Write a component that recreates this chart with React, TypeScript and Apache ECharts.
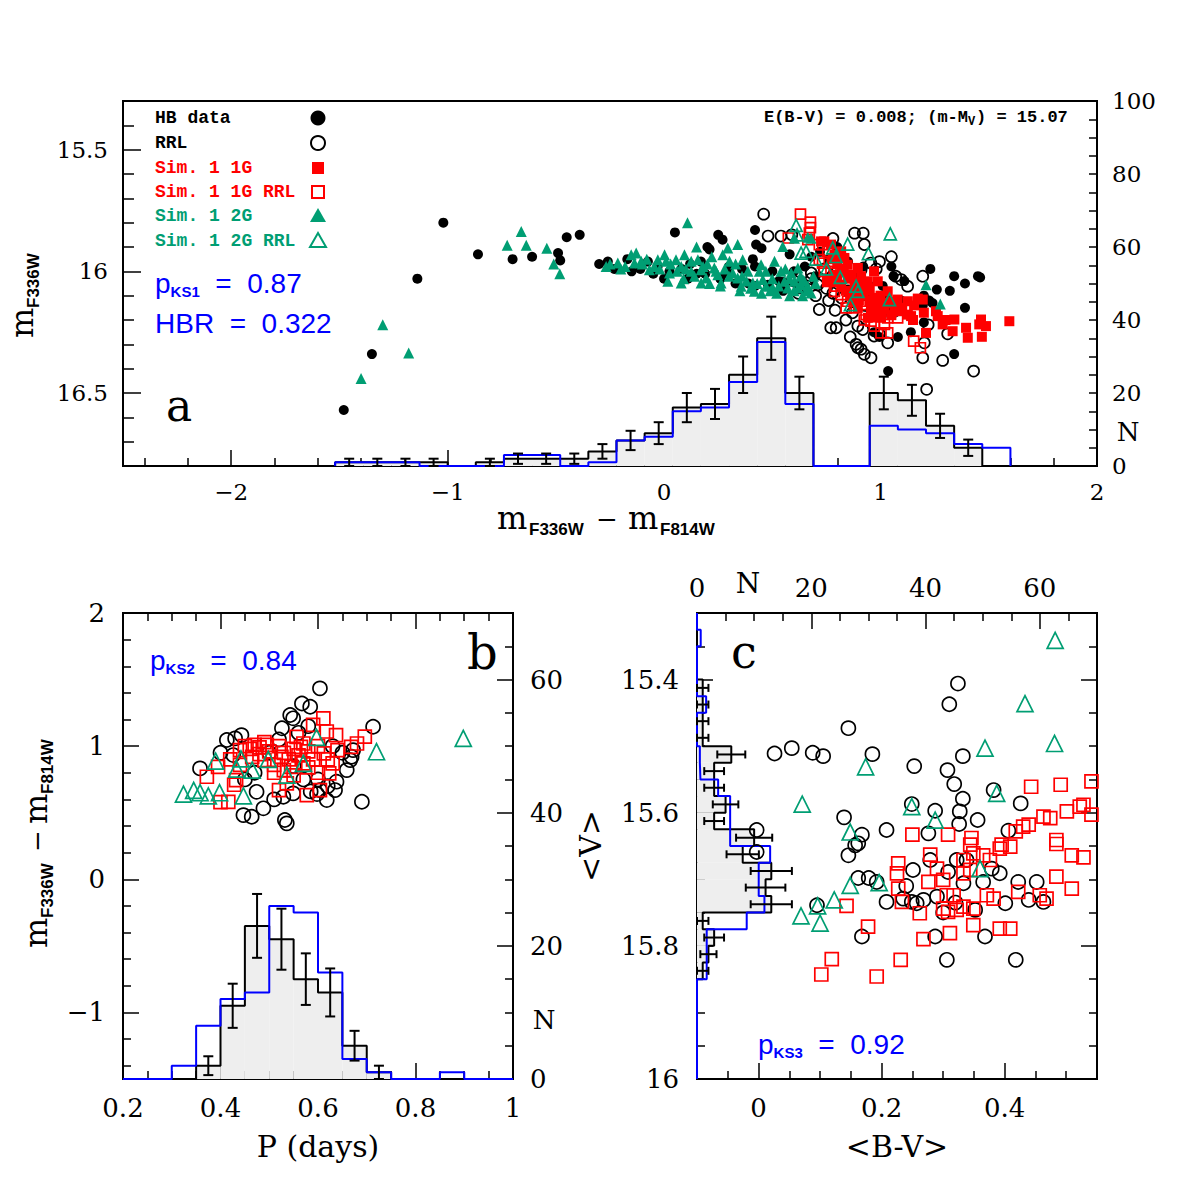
import React, { useEffect, useRef } from "react";
import * as echarts from "echarts";

// ---------------- Panel a data ----------------
const aHistEdges = [-1.52, -1.39, -1.26, -1.13, -1.0, -0.87, -0.74, -0.61, -0.48, -0.35, -0.22, -0.09, 0.04, 0.17, 0.3, 0.43, 0.56, 0.69, 0.82, 0.95, 1.08, 1.21, 1.34, 1.47, 1.6];
const aHistObs = [1, 1, 1, 1, 0, 1, 2, 2, 2, 4, 7, 9, 16, 17, 25, 35, 20, 0, 0, 20, 18, 11, 5, 0];
const aHistSim = [1, 1, 1, 0, 0, 0, 3, 3, 0, 1, 7, 8, 15, 16, 23, 34, 17, 0, 0, 11, 10, 9, 6, 5];

const aHB = [
  [-1.48, 16.57], [-1.35, 16.34], [-1.14, 16.03], [-1.02, 15.8], [-0.86, 15.93], [-0.7, 15.95], [-0.61, 15.94],
  [-0.45, 15.86], [-0.39, 15.85], [-0.49, 15.925], [-0.48, 15.955], [-0.3, 15.97], [-0.26, 15.96], [-0.23, 15.99],
  [-0.17, 15.95], [-0.11, 15.99], [-0.075, 15.96], [-0.05, 16.01], [-0.03, 15.98], [0.05, 15.84], [0.025, 16.0],
  [0.08, 15.99], [0.11, 16.03], [0.15, 16.01], [0.17, 15.96], [0.2, 15.9], [0.25, 15.85], [0.27, 15.87],
  [0.26, 16.03], [0.29, 16.01], [0.42, 15.83], [0.425, 15.89], [0.45, 15.905], [0.41, 15.95], [0.42, 15.98],
  [0.36, 15.99], [0.39, 16.05], [0.42, 16.06], [0.48, 16.055], [0.53, 16.04], [0.19, 16.01], [0.21, 15.91],
  [0.6, 16.0], [0.65, 15.98], [0.7, 16.02], [0.76, 15.95], [0.8, 15.9], [0.85, 15.96], [0.92, 15.98],
  [1.05, 15.98], [1.06, 16.02], [1.11, 16.04], [1.01, 16.06], [1.025, 16.1], [1.23, 15.99], [1.34, 16.02],
  [1.39, 16.05], [1.46, 16.025], [1.26, 16.075], [1.32, 16.08], [1.2, 16.1], [1.225, 16.12], [1.195, 16.14],
  [1.24, 16.13], [1.39, 16.15], [1.14, 16.25], [0.97, 16.25], [0.995, 16.27], [1.34, 16.34], [1.2, 16.21],
  [1.08, 16.27], [1.095, 16.12], [1.035, 16.41], [0.88, 16.02], [0.9, 16.06], [0.95, 16.1], [0.0, 16.03],
  [-0.15, 16.0], [0.33, 16.05], [0.55, 16.08], [0.62, 16.06], [0.5, 16.0], [0.3, 15.98], [0.12, 15.97],
  [0.68, 15.94], [0.72, 15.92], [0.58, 15.93], [1.45, 16.02]
];
const aRRL = [
  [0.46, 15.765], [0.48, 15.855], [0.54, 15.855], [0.78, 15.865], [0.88, 15.843], [0.92, 15.843], [0.925, 15.89],
  [0.955, 15.966], [0.995, 15.96], [1.05, 15.94], [0.91, 15.993], [1.07, 16.02], [1.095, 16.034], [1.125, 16.061],
  [1.195, 16.02], [0.625, 16.068], [0.717, 16.157], [0.68, 16.007], [0.71, 16.055], [0.77, 16.232], [0.795, 16.232],
  [0.895, 16.225], [0.918, 16.239], [0.887, 16.3], [0.895, 16.314], [0.925, 16.341], [0.956, 16.355],
  [0.97, 16.266], [0.995, 16.259], [1.033, 16.294], [1.064, 16.164], [1.202, 16.294], [1.195, 16.355],
  [1.287, 16.366], [1.43, 16.41], [1.213, 16.485], [1.31, 16.257], [1.22, 16.22], [0.6, 16.04], [0.66, 16.06],
  [0.75, 16.07], [0.78, 16.09], [0.82, 16.11], [0.85, 16.08], [0.93, 16.14], [0.96, 16.16], [0.84, 16.2],
  [0.87, 16.17], [1.0, 16.18], [0.55, 16.05], [0.5, 16.06], [0.98, 15.99], [0.94, 16.06], [0.74, 15.99],
  [0.8, 16.0], [0.86, 16.27], [0.91, 16.32], [0.68, 16.03], [0.59, 15.85], [0.62, 16.09], [0.7, 16.1],
  [0.76, 16.12], [0.79, 16.16]
];
const aSim1G = [
  [1.595, 16.205], [1.464, 16.198], [1.487, 16.225], [1.456, 16.218], [1.468, 16.269], [1.403, 16.273], [1.395, 16.232],
  [1.341, 16.198], [1.333, 16.246], [1.287, 16.218], [1.264, 16.184], [1.21, 16.253], [1.256, 16.164], [1.172, 16.112],
  [1.195, 16.116], [1.141, 16.184], [1.079, 16.116], [1.087, 16.164], [1.033, 16.082], [1.048, 16.123], [0.987, 16.041],
  [0.971, 16.109], [0.941, 16.041], [0.948, 16.123], [0.895, 15.986], [0.91, 16.02], [0.848, 15.973], [0.864, 16.014],
  [0.818, 15.918], [0.833, 15.945], [0.771, 15.89], [0.787, 15.932], [0.74, 15.877], [0.987, 16.164], [1.002, 16.191],
  [0.956, 16.164], [1.064, 16.15], [1.126, 16.178], [0.941, 16.191], [0.895, 16.15], [0.879, 16.082], [1.018, 16.15],
  [1.126, 16.123], [0.787, 16.014], [0.818, 16.055], [0.756, 16.041], [0.725, 15.877], [0.9, 16.06], [0.93, 16.08],
  [0.86, 16.1], [1.0, 16.1], [0.97, 16.0], [0.8, 15.97], [1.3, 16.2], [1.155, 16.14],
  [0.82, 15.99], [0.85, 16.03], [0.88, 16.05], [0.84, 16.08], [0.92, 16.1], [0.95, 16.07], [0.98, 16.13],
  [1.02, 16.13], [1.05, 16.18], [0.9, 16.12], [0.87, 16.12], [0.8, 16.04], [0.78, 15.95], [0.83, 16.0],
  [0.96, 16.19], [1.1, 16.15], [1.15, 16.2], [1.2, 16.17]
];
const aSim1GRRL = [
  [0.63, 15.765], [0.676, 15.798], [0.676, 15.82], [0.671, 15.843], [0.574, 15.863], [0.664, 15.87], [0.733, 15.89],
  [0.717, 15.952], [0.74, 16.0], [0.771, 16.0], [0.732, 15.966], [0.778, 15.966], [0.756, 16.041], [0.794, 16.061],
  [0.818, 16.096], [0.848, 16.123], [0.879, 16.15], [0.91, 16.123], [0.933, 16.178], [0.956, 16.205], [0.971, 16.225],
  [1.002, 16.253], [1.033, 16.253], [1.033, 16.191], [1.048, 16.164], [0.987, 16.15], [0.956, 16.123], [0.918, 16.075],
  [0.941, 16.089], [0.895, 16.048], [1.153, 16.287], [1.184, 16.314], [0.787, 16.082], [0.756, 15.918], [0.717, 15.89],
  [0.995, 16.184], [1.018, 16.218], [1.079, 16.191], [0.841, 16.15], [0.925, 16.2]
];
const aSim2G = [
  [-1.4, 16.44], [-1.3, 16.22], [-1.18, 16.336], [-0.66, 15.836], [-0.725, 15.893], [-0.637, 15.893], [-0.542, 15.905],
  [-0.51, 15.97], [-0.482, 16.01], [-0.268, 15.98], [-0.214, 15.966], [0.108, 15.8],
  [-0.152, 15.932], [-0.129, 15.925], [-0.106, 15.959], [-0.137, 15.966], [-0.068, 15.993], [-0.029, 15.952], [0.002, 15.932],
  [0.009, 15.959], [0.025, 16.007], [0.055, 15.952], [0.079, 15.98], [0.094, 15.932], [0.125, 15.959], [0.125, 16.0],
  [0.156, 15.952], [0.171, 15.993], [0.194, 16.027], [0.232, 15.986], [0.248, 16.014], [0.271, 15.932], [0.302, 15.959],
  [0.294, 15.904], [0.34, 15.89], [0.317, 16.007], [0.34, 16.027], [0.363, 15.952], [0.387, 16.0], [0.41, 16.048],
  [0.417, 16.082], [0.448, 15.973], [0.456, 16.034], [0.471, 16.061], [0.502, 16.068], [0.51, 15.959], [0.54, 16.0],
  [0.556, 16.041], [0.571, 16.068], [0.587, 16.007], [0.602, 16.041], [0.618, 16.068], [0.641, 16.034], [0.664, 16.061],
  [0.679, 16.089], [0.548, 15.898], [0.602, 15.864], [0.664, 15.86], [0.017, 16.041], [0.079, 16.048], [0.171, 16.048],
  [0.263, 16.048], [0.356, 16.061], [-0.045, 15.98], [0.679, 15.864], [0.618, 15.986], [0.648, 16.041], [0.633, 16.055],
  [1.21, 16.055], [1.276, 16.134], [0.2, 15.97], [0.28, 15.99], [0.36, 16.02], [0.44, 16.0], [0.5, 16.03], [0.58, 16.03],
  [0.26, 16.06], [0.4, 16.07], [0.52, 16.09], [0.7, 16.05], [-0.2, 15.99], [-0.08, 15.95], [0.06, 16.0], [0.15, 15.9], [0.22, 15.94],
  [-0.25, 15.97], [-0.18, 15.98], [-0.1, 15.97], [-0.02, 15.99], [0.03, 15.97], [0.1, 15.99], [0.14, 16.02], [0.18, 15.98],
  [0.24, 16.0], [0.3, 16.02], [0.33, 15.97], [0.38, 16.04], [0.43, 16.05], [0.47, 16.0], [0.49, 16.08], [0.53, 16.06],
  [0.56, 15.99], [0.6, 16.08], [0.63, 16.02], [0.66, 16.08], [0.69, 16.02], [0.45, 16.09], [0.35, 16.08], [0.21, 16.05],
  [0.09, 16.03], [0.58, 16.1], [0.64, 16.1]
];
const aSim2GRRL = [
  [0.61, 15.811], [0.614, 15.85], [0.656, 15.918], [0.633, 15.925], [0.779, 15.904], [0.794, 15.939], [0.848, 15.888],
  [0.944, 15.927], [1.045, 15.846], [0.814, 16.025], [0.887, 16.061], [0.895, 16.082], [0.861, 16.137], [1.041, 16.116],
  [0.75, 15.99], [0.7, 15.95]
];

// ---------------- Panel b data ----------------
const bHistEdges = [0.2, 0.25, 0.3, 0.35, 0.4, 0.45, 0.5, 0.55, 0.6, 0.65, 0.7, 0.75, 0.8, 0.85, 0.9, 0.95, 1.0];
const bHistObs = [0, 0, 0, 2, 11, 23, 21, 15, 13, 5, 1, 0, 0, 0, 0, 0];
const bHistSim = [0, 0, 2, 8, 12, 13, 26, 25, 16, 3, 1, 0, 0, 1, 0, 0];
const bRRL = [
  [0.604, 1.434], [0.567, 1.32], [0.584, 1.296], [0.543, 1.234], [0.549, 1.209], [0.526, 1.134], [0.713, 1.146],
  [0.443, 1.083], [0.43, 1.058], [0.358, 0.833], [0.426, 0.933], [0.69, 0.582], [0.447, 0.482], [0.464, 0.47],
  [0.488, 0.533], [0.532, 0.445], [0.536, 0.42], [0.474, 0.657], [0.604, 0.67], [0.618, 0.595], [0.638, 0.733],
  [0.635, 0.67], [0.659, 0.82], [0.666, 0.895], [0.672, 0.97], [0.669, 0.92], [0.598, 0.64], [0.585, 0.66],
  [0.529, 0.62], [0.549, 0.645], [0.51, 0.6], [0.413, 1.046], [0.5, 0.95], [0.55, 0.85], [0.6, 0.75], [0.62, 0.7],
  [0.57, 0.75], [0.45, 0.75], [0.47, 0.8], [0.63, 1.0], [0.65, 0.95], [0.4, 0.95], [0.52, 1.05], [0.56, 1.1], [0.58, 1.15]
];
const bSim1GRRL = [
  [0.59, 1.159], [0.611, 1.209], [0.618, 1.11], [0.637, 1.083], [0.696, 1.071], [0.68, 1.02], [0.668, 0.995],
  [0.372, 0.77], [0.395, 0.845], [0.416, 0.582], [0.4, 0.58], [0.428, 0.71], [0.45, 1.0], [0.47, 1.01], [0.48, 0.99],
  [0.495, 1.01], [0.556, 1.07], [0.565, 0.995], [0.525, 0.92], [0.545, 0.845], [0.57, 0.87], [0.51, 0.8], [0.536, 0.72],
  [0.52, 0.67], [0.577, 0.632], [0.604, 0.67], [0.623, 0.795], [0.63, 0.87], [0.49, 0.895], [0.465, 0.92], [0.44, 0.97],
  [0.432, 0.745], [0.612, 0.945], [0.46, 0.98], [0.48, 0.94], [0.5, 0.96], [0.52, 1.0], [0.53, 0.95], [0.54, 0.9],
  [0.55, 0.98], [0.56, 0.93], [0.57, 1.02], [0.58, 0.96], [0.59, 0.9], [0.6, 1.0], [0.51, 0.86], [0.53, 0.82], [0.55, 0.78],
  [0.58, 0.84], [0.6, 0.8], [0.62, 0.9], [0.64, 0.97], [0.49, 1.03], [0.44, 0.86], [0.42, 0.9]
];
const bSim2GRRL = [
  [0.898, 1.058], [0.72, 0.958], [0.597, 1.066], [0.57, 0.871], [0.536, 0.783], [0.498, 0.9], [0.465, 0.82],
  [0.442, 0.905], [0.433, 0.828], [0.39, 0.888], [0.324, 0.64], [0.345, 0.668], [0.358, 0.65], [0.375, 0.627],
  [0.398, 0.65], [0.447, 0.627]
];

// ---------------- Panel c data ----------------
const cHistEdges = [15.3, 15.325, 15.35, 15.375, 15.4, 15.425, 15.45, 15.475, 15.5, 15.525, 15.55, 15.575, 15.6, 15.625, 15.65, 15.675, 15.7, 15.725, 15.75, 15.775, 15.8, 15.825, 15.85, 15.875, 15.9, 15.925, 15.95, 15.975, 16.0];
const cHistObs = [0, 0, 0, 0, 1, 1, 1, 1, 6, 3, 3, 5, 3, 10, 8, 13, 12, 13, 1, 3, 2, 1, 0, 0, 0, 0, 0, 0];
const cHistSim = [0, 0.65, 0, 0, 0, 1.6, 0, 0, 0.5, 0.6, 3.7, 5.8, 5.8, 5.8, 12.8, 10.8, 10.8, 11.8, 8.7, 1.7, 1.7, 1.7, 0, 0, 0, 0, 0, 0];
const cRRL = [
  [0.324, 15.406], [0.31, 15.437], [0.146, 15.473], [0.026, 15.511], [0.054, 15.503], [0.088, 15.51], [0.105, 15.515],
  [0.185, 15.512], [0.332, 15.515], [0.253, 15.53], [0.307, 15.536], [0.318, 15.557], [0.332, 15.579], [0.327, 15.598],
  [0.326, 15.617], [0.356, 15.611], [0.382, 15.566], [0.426, 15.586], [0.139, 15.607], [0.168, 15.633], [0.208, 15.626],
  [0.287, 15.597], [0.276, 15.631], [0.249, 15.587], [0.406, 15.627], [-0.003, 15.626], [0.157, 15.649],
  [-0.003, 15.659], [0.146, 15.664], [0.162, 15.646], [0.192, 15.704], [0.208, 15.734], [0.235, 15.729], [0.249, 15.734],
  [0.257, 15.736], [0.268, 15.731], [0.251, 15.686], [0.279, 15.671], [0.29, 15.726], [0.308, 15.689], [0.322, 15.671],
  [0.338, 15.671], [0.333, 15.706], [0.352, 15.746], [0.365, 15.704], [0.379, 15.684], [0.392, 15.691], [0.401, 15.736],
  [0.422, 15.704], [0.452, 15.704], [0.463, 15.734], [0.439, 15.731], [0.368, 15.786], [0.287, 15.786], [0.168, 15.786],
  [0.306, 15.821], [0.418, 15.821], [0.179, 15.698], [0.162, 15.698], [0.095, 15.739], [0.24, 15.71], [0.3, 15.75], [0.32, 15.735]
];
const cSim1GRRL = [
  [0.443, 15.561], [0.491, 15.558], [0.541, 15.553], [0.522, 15.591], [0.528, 15.588], [0.501, 15.598], [0.463, 15.606],
  [0.474, 15.608], [0.43, 15.621], [0.439, 15.618], [0.418, 15.628], [0.541, 15.603], [0.484, 15.641], [0.25, 15.633],
  [0.308, 15.633], [0.346, 15.638], [0.344, 15.648], [0.395, 15.648], [0.227, 15.676], [0.279, 15.663], [0.29, 15.684],
  [0.276, 15.704], [0.227, 15.714], [0.233, 15.734], [0.262, 15.751], [0.3, 15.744], [0.308, 15.749], [0.322, 15.746],
  [0.333, 15.741], [0.349, 15.744], [0.306, 15.724], [0.317, 15.724], [0.333, 15.691], [0.344, 15.686], [0.333, 15.671],
  [0.349, 15.661], [0.365, 15.664], [0.376, 15.671], [0.392, 15.654], [0.409, 15.651], [0.371, 15.724], [0.382, 15.729],
  [0.422, 15.719], [0.457, 15.724], [0.468, 15.729], [0.484, 15.696], [0.509, 15.714], [0.509, 15.664], [0.528, 15.667],
  [0.484, 15.647], [0.392, 15.774], [0.409, 15.774], [0.349, 15.769], [0.311, 15.781], [0.268, 15.79], [0.178, 15.771],
  [0.143, 15.74], [0.119, 15.82], [0.102, 15.843], [0.192, 15.846], [0.231, 15.821], [0.225, 15.691], [0.3, 15.701]
];
const cSim2GRRL = [
  [0.482, 15.341], [0.433, 15.436], [0.481, 15.496], [0.368, 15.503], [0.174, 15.531], [0.071, 15.587], [0.387, 15.571],
  [0.249, 15.591], [0.287, 15.611], [0.149, 15.629], [0.36, 15.684], [0.149, 15.709], [0.196, 15.705], [0.123, 15.731],
  [0.096, 15.74], [0.069, 15.755], [0.1, 15.766]
];

// ---------------- Ticks ----------------
const aXMajor = [-2, -1, 0, 1, 2];
const aXMinor = [-2.4, -2.2, -1.8, -1.6, -1.4, -1.2, -0.8, -0.6, -0.4, -0.2, 0.2, 0.4, 0.6, 0.8, 1.2, 1.4, 1.6, 1.8];
const aYMajor = [15.5, 16, 16.5];
const aYMinor = [15.4, 15.6, 15.7, 15.8, 15.9, 16.1, 16.2, 16.3, 16.4, 16.6, 16.7];
const aNLabels = [0, 20, 40, 60, 80, 100];
const aNTicks = [5, 10, 15, 20, 25, 30, 35, 40, 45, 50, 55, 60, 65, 70, 75, 80, 85, 90, 95];
const bXMajor = [0.2, 0.4, 0.6, 0.8, 1];
const bXMinor = [0.25, 0.3, 0.35, 0.45, 0.5, 0.55, 0.65, 0.7, 0.75, 0.85, 0.9, 0.95];
const bYMajor = [-1, 0, 1, 2];
const bYMinor = [-1.4, -1.2, -0.8, -0.6, -0.4, -0.2, 0.2, 0.4, 0.6, 0.8, 1.2, 1.4, 1.6, 1.8];
const bNMajor = [20, 40, 60];
const bNLabels = [0, 20, 40, 60];
const bNMinor = [5, 10, 15, 25, 30, 35, 45, 50, 55, 65];
const cXMajor = [0, 0.2, 0.4];
const cXMinor = [-0.05, 0.05, 0.1, 0.15, 0.25, 0.3, 0.35, 0.45, 0.5];
const cNMajor = [20, 40, 60];
const cNLabels = [0, 20, 40, 60];
const cNMinor = [5, 10, 15, 25, 30, 35, 45, 50, 55, 65];
const cYMajor = [15.4, 15.6, 15.8];
const cYLabels = [15.4, 15.6, 15.8, 16];
const cYMinor = [15.35, 15.45, 15.5, 15.55, 15.65, 15.7, 15.75, 15.85, 15.9, 15.95];

const SERIF = "DejaVu Serif";
const SANS = "Liberation Sans";
const MONO = "Liberation Mono";
const RED = "#ff0000";
const GREEN = "#009e73";
const BLUE = "#0000ff";
const FILL = "#eeeeee";

const minus = (v: number) => (v < 0 ? "\u2212" + String(Math.abs(v)) : String(v));

function ax(grid: number, pos: string, min: number, max: number, ticks: number[], len: number, opts: any = {}) {
  const o: any = {
    type: "value", gridIndex: grid, position: pos, min, max, inverse: !!opts.inverse, offset: 0,
    axisLine: { show: false, onZero: false },
    splitLine: { show: false },
    axisTick: { show: true, inside: true, length: len, customValues: ticks, lineStyle: { color: "#000", width: 1.5 } },
    axisLabel: { show: false },
  };
  if (opts.labels) {
    o.axisLabel = {
      show: true, customValues: opts.labels, formatter: opts.fmt || ((v: number) => minus(v)),
      fontFamily: SERIF, fontSize: opts.fontSize || 23, color: "#000", margin: opts.margin || 14,
    };
  }
  return o;
}

function vSteps(edges: number[], counts: number[]) {
  const pts: number[][] = [[edges[0], 0]];
  counts.forEach((n, i) => { pts.push([edges[i], n]); pts.push([edges[i + 1], n]); });
  pts.push([edges[edges.length - 1], 0]);
  return pts;
}
function hSteps(edges: number[], counts: number[]) {
  return vSteps(edges, counts).map((p) => [p[1], p[0]]);
}
function binData(edges: number[], counts: number[]) {
  return counts.map((n, i) => [edges[i], edges[i + 1], n]).filter((d) => d[2] > 0);
}
function errData(edges: number[], counts: number[]) {
  return counts.map((n, i) => [(edges[i] + edges[i + 1]) / 2, n, Math.sqrt(n)]).filter((d) => d[1] > 0);
}

const ST = { stroke: "#000", lineWidth: 2 };
function fillV(_p: any, api: any) {
  const a = api.coord([api.value(0), 0]);
  const b = api.coord([api.value(1), api.value(2)]);
  return { type: "rect", shape: { x: a[0], y: b[1], width: b[0] - a[0], height: a[1] - b[1] }, style: { fill: FILL } };
}
function fillH(_p: any, api: any) {
  const a = api.coord([0, api.value(0)]);
  const b = api.coord([api.value(2), api.value(1)]);
  return { type: "rect", shape: { x: a[0], y: Math.min(a[1], b[1]), width: b[0] - a[0], height: Math.abs(b[1] - a[1]) }, style: { fill: FILL } };
}
function errV(_p: any, api: any) {
  const c = api.value(0), n = api.value(1), e = api.value(2);
  const a = api.coord([c, n - e]), b = api.coord([c, n + e]);
  const w = 5;
  return { type: "group", children: [
    { type: "line", shape: { x1: a[0], y1: a[1], x2: b[0], y2: b[1] }, style: ST },
    { type: "line", shape: { x1: a[0] - w, y1: a[1], x2: a[0] + w, y2: a[1] }, style: ST },
    { type: "line", shape: { x1: b[0] - w, y1: b[1], x2: b[0] + w, y2: b[1] }, style: ST },
  ] };
}
function errH(_p: any, api: any) {
  const c = api.value(0), n = api.value(1), e = api.value(2);
  const a = api.coord([n - e, c]), b = api.coord([n + e, c]);
  const w = 4;
  return { type: "group", children: [
    { type: "line", shape: { x1: a[0], y1: a[1], x2: b[0], y2: b[1] }, style: ST },
    { type: "line", shape: { x1: a[0], y1: a[1] - w, x2: a[0], y2: a[1] + w }, style: ST },
    { type: "line", shape: { x1: b[0], y1: b[1] - w, x2: b[0], y2: b[1] + w }, style: ST },
  ] };
}

function histSeries(edges: number[], obs: number[], sim: number[], xi: number, yi: number, horiz: boolean) {
  return [
    { type: "custom", xAxisIndex: xi, yAxisIndex: yi, data: binData(edges, obs), renderItem: horiz ? fillH : fillV, z: 1, silent: true, clip: false },
    { type: "line", xAxisIndex: xi, yAxisIndex: yi, data: horiz ? hSteps(edges, obs) : vSteps(edges, obs), symbol: "none", showSymbol: false, lineStyle: { color: "#000", width: 2 }, z: 2, silent: true, clip: false },
    { type: "line", xAxisIndex: xi, yAxisIndex: yi, data: horiz ? hSteps(edges, sim) : vSteps(edges, sim), symbol: "none", showSymbol: false, lineStyle: { color: BLUE, width: 2 }, z: 3, silent: true, clip: false },
    { type: "custom", xAxisIndex: xi, yAxisIndex: yi, data: errData(edges, obs), renderItem: horiz ? errH : errV, z: 4, silent: true, clip: false },
  ];
}

function sc(data: number[][], xi: number, yi: number, symbol: string, size: number, color: string, filled: boolean, z: number) {
  return {
    type: "scatter", xAxisIndex: xi, yAxisIndex: yi, data, symbol, symbolSize: size, z, silent: true,
    itemStyle: filled ? { color, borderWidth: 0, opacity: 1 } : { color: "rgba(0,0,0,0)", borderColor: color, borderWidth: 1.7, opacity: 1 },
  };
}

function txt(x: number, y: number, text: string, size: number, family: string, opts: any = {}) {
  const align = opts.align || "left";
  const va = opts.va || "middle";
  return {
    type: "text", x, y, silent: true, z: 20,
    style: {
      text, fontSize: size, fontFamily: family, fontWeight: opts.weight || "normal", fill: opts.color || "#000",
      textAlign: align, textVerticalAlign: va, align, verticalAlign: va,
    },
  };
}

let mctx: CanvasRenderingContext2D | null = null;
function tw(t: string, font: string) {
  if (!mctx) mctx = document.createElement("canvas").getContext("2d");
  mctx!.font = font;
  return mctx!.measureText(t).width;
}

function pks(x: number, y: number, sub: string, value: string, mainText = "p") {
  const w1 = tw(mainText, `28px "${SANS}"`);
  const w2 = tw(sub, `bold 15px "${SANS}"`);
  return {
    type: "group", x, y, z: 20, children: [
      txt(0, 0, mainText, 28, SANS, { color: BLUE }),
      txt(w1, 8, sub, 15, SANS, { color: BLUE, weight: "bold" }),
      txt(w1 + w2, 0, "  =  " + value, 28, SANS, { color: BLUE }),
    ],
  };
}

function buildOption() {
  const graphic: any[] = [];
  // legend
  const legTexts = ["HB data", "RRL", "Sim. 1 1G", "Sim. 1 1G RRL", "Sim. 1 2G", "Sim. 1 2G RRL"];
  const legColors = ["#000", "#000", RED, RED, GREEN, GREEN];
  const legY = [118, 143, 168, 192, 216, 241];
  legTexts.forEach((t, i) => graphic.push(txt(155, legY[i], t, 18, MONO, { weight: "bold", color: legColors[i] })));
  graphic.push({ type: "circle", shape: { cx: 318, cy: 118, r: 7.5 }, style: { fill: "#000" }, z: 20, silent: true });
  graphic.push({ type: "circle", shape: { cx: 318, cy: 143, r: 7 }, style: { fill: "none", stroke: "#000", lineWidth: 2 }, z: 20, silent: true });
  graphic.push({ type: "rect", shape: { x: 312, y: 162, width: 12, height: 12 }, style: { fill: RED }, z: 20, silent: true });
  graphic.push({ type: "rect", shape: { x: 312, y: 186, width: 12, height: 12 }, style: { fill: "none", stroke: RED, lineWidth: 2 }, z: 20, silent: true });
  graphic.push({ type: "polygon", shape: { points: [[318, 208], [326, 222], [310, 222]] }, style: { fill: GREEN }, z: 20, silent: true });
  graphic.push({ type: "polygon", shape: { points: [[318, 233], [326, 247], [310, 247]] }, style: { fill: "none", stroke: GREEN, lineWidth: 2 }, z: 20, silent: true });
  // E(B-V) text
  graphic.push(txt(968, 117, "E(B-V) = 0.008; (m-M", 17, MONO, { weight: "bold", align: "right" }));
  graphic.push(txt(968, 122, "V", 12, MONO, { weight: "bold" }));
  graphic.push(txt(976, 117, ") = 15.07", 17, MONO, { weight: "bold" }));
  // panel letters
  graphic.push(txt(166, 405, "a", 44, SERIF));
  graphic.push(txt(467, 652, "b", 48, SERIF));
  graphic.push(txt(731, 652, "c", 46, SERIF));
  // KS and HBR
  graphic.push(pks(155, 283, "KS1", "0.87"));
  graphic.push(txt(155, 323, "HBR  =  0.322", 28, SANS, { color: BLUE }));
  graphic.push(pks(150, 660, "KS2", "0.84"));
  graphic.push(pks(758, 1044, "KS3", "0.92"));
  // N labels
  graphic.push(txt(1128, 432, "N", 26, SERIF, { align: "center" }));
  graphic.push(txt(544, 1020, "N", 26, SERIF, { align: "center" }));
  graphic.push(txt(748, 583, "N", 28, SERIF, { align: "center" }));
  // axis titles panel a x
  graphic.push(txt(497, 518, "m", 32, SERIF));
  graphic.push(txt(529, 529, "F336W", 17, SANS, { weight: "bold" }));
  graphic.push(txt(596, 519, "\u2212", 26, SERIF));
  graphic.push(txt(628, 518, "m", 32, SERIF));
  graphic.push(txt(660, 529, "F814W", 17, SANS, { weight: "bold" }));
  // panel a y title
  graphic.push({
    type: "group", x: 22, y: 338, rotation: Math.PI / 2, z: 20, children: [
      txt(0, 0, "m", 32, SERIF),
      txt(30, 11, "F336W", 17, SANS, { weight: "bold" }),
    ],
  });
  // panel b y title
  graphic.push({
    type: "group", x: 36, y: 948, rotation: Math.PI / 2, z: 20, children: [
      txt(0, 0, "m", 32, SERIF),
      txt(30, 11, "F336W", 17, SANS, { weight: "bold" }),
      txt(96, 1, "\u2212", 26, SERIF),
      txt(124, 0, "m", 32, SERIF),
      txt(154, 11, "F814W", 17, SANS, { weight: "bold" }),
    ],
  });
  // panel b, c x titles
  graphic.push(txt(318, 1146, "P (days)", 30, SERIF, { align: "center" }));
  graphic.push(txt(897, 1146, "<B-V>", 30, SERIF, { align: "center" }));
  graphic.push({ type: "group", x: 590, y: 846, rotation: Math.PI / 2, z: 20, children: [txt(0, 0, "<V>", 30, SERIF, { align: "center" })] });

  const gridBase = { show: true, borderColor: "#000", borderWidth: 2, backgroundColor: "transparent", containLabel: false, outerBoundsMode: "none" };

  const xAxis = [
    ax(0, "bottom", -2.5, 2, aXMajor, 16, { labels: aXMajor, fontSize: 23, margin: 14 }),
    ax(0, "bottom", -2.5, 2, aXMinor, 8),
    ax(1, "bottom", 0.2, 1, bXMajor, 16, { labels: bXMajor, fontSize: 26, margin: 16, fmt: (v: number) => (v === 1 ? "1" : v.toFixed(1)) }),
    ax(1, "bottom", 0.2, 1, bXMinor, 8),
    ax(1, "top", 0.2, 1, bXMajor, 16),
    ax(1, "top", 0.2, 1, bXMinor, 8),
    ax(2, "bottom", -0.1, 0.55, cXMajor, 16, { labels: cXMajor, fontSize: 26, margin: 16, fmt: (v: number) => (v === 0 ? "0" : v.toFixed(1)) }),
    ax(2, "bottom", -0.1, 0.55, cXMinor, 8),
    ax(2, "top", 0, 70, cNMajor, 16, { labels: cNLabels, fontSize: 26, margin: 12 }),
    ax(2, "top", 0, 70, cNMinor, 8),
  ];
  const yAxis = [
    ax(0, "left", 15.3, 16.8, aYMajor, 18, { labels: aYMajor, inverse: true, fontSize: 23, margin: 15 }),
    ax(0, "left", 15.3, 16.8, aYMinor, 11, { inverse: true }),
    ax(0, "right", 0, 100, aNTicks, 8, { labels: aNLabels, fontSize: 23, margin: 15 }),
    ax(1, "left", -1.5, 2, bYMajor, 16, { labels: bYMajor, fontSize: 26, margin: 18 }),
    ax(1, "left", -1.5, 2, bYMinor, 8),
    ax(1, "right", 0, 70, bNMajor, 16, { labels: bNLabels, fontSize: 26, margin: 17 }),
    ax(1, "right", 0, 70, bNMinor, 8),
    ax(2, "left", 15.3, 16, cYMajor, 16, { labels: cYLabels, inverse: true, fontSize: 26, margin: 18, fmt: (v: number) => (v === 16 ? "16" : v.toFixed(1)) }),
    ax(2, "left", 15.3, 16, cYMinor, 8, { inverse: true }),
    ax(2, "right", 15.3, 16, cYMajor, 16, { inverse: true }),
    ax(2, "right", 15.3, 16, cYMinor, 8, { inverse: true }),
  ];

  const series: any[] = [
    ...histSeries(aHistEdges, aHistObs, aHistSim, 0, 2, false),
    sc(aRRL, 0, 0, "circle", 11, "#000", false, 5),
    sc(aHB, 0, 0, "circle", 10, "#000", true, 6),
    sc(aSim1G, 0, 0, "rect", 10, RED, true, 7),
    sc(aSim1GRRL, 0, 0, "rect", 10, RED, false, 8),
    sc(aSim2G, 0, 0, "triangle", 11, GREEN, true, 9),
    sc(aSim2GRRL, 0, 0, "triangle", 12, GREEN, false, 10),

    ...histSeries(bHistEdges, bHistObs, bHistSim, 2, 5, false),
    sc(bRRL, 2, 3, "circle", 14, "#000", false, 5),
    sc(bSim1GRRL, 2, 3, "rect", 13, RED, false, 6),
    sc(bSim2GRRL, 2, 3, "triangle", 16, GREEN, false, 7),

    ...histSeries(cHistEdges, cHistObs, cHistSim, 8, 7, true),
    sc(cRRL, 6, 7, "circle", 14, "#000", false, 5),
    sc(cSim1GRRL, 6, 7, "rect", 13, RED, false, 6),
    sc(cSim2GRRL, 6, 7, "triangle", 16, GREEN, false, 7),
  ];

  return {
    animation: false,
    backgroundColor: "#fff",
    grid: [
      { ...gridBase, left: 123, top: 101, width: 974, height: 365 },
      { ...gridBase, left: 123, top: 613, width: 390, height: 466 },
      { ...gridBase, left: 697, top: 613, width: 400, height: 466 },
    ],
    xAxis,
    yAxis,
    series,
    graphic,
  };
}

export default function App() {
  const ref = useRef<HTMLDivElement>(null);
  useEffect(() => {
    const chart = echarts.init(ref.current!, null, { renderer: "svg" });
    chart.setOption(buildOption() as any);
    return () => chart.dispose();
  }, []);
  return <div ref={ref} style={{ position: "absolute", left: 0, top: 0, width: 1196, height: 1196 }} />;
}
